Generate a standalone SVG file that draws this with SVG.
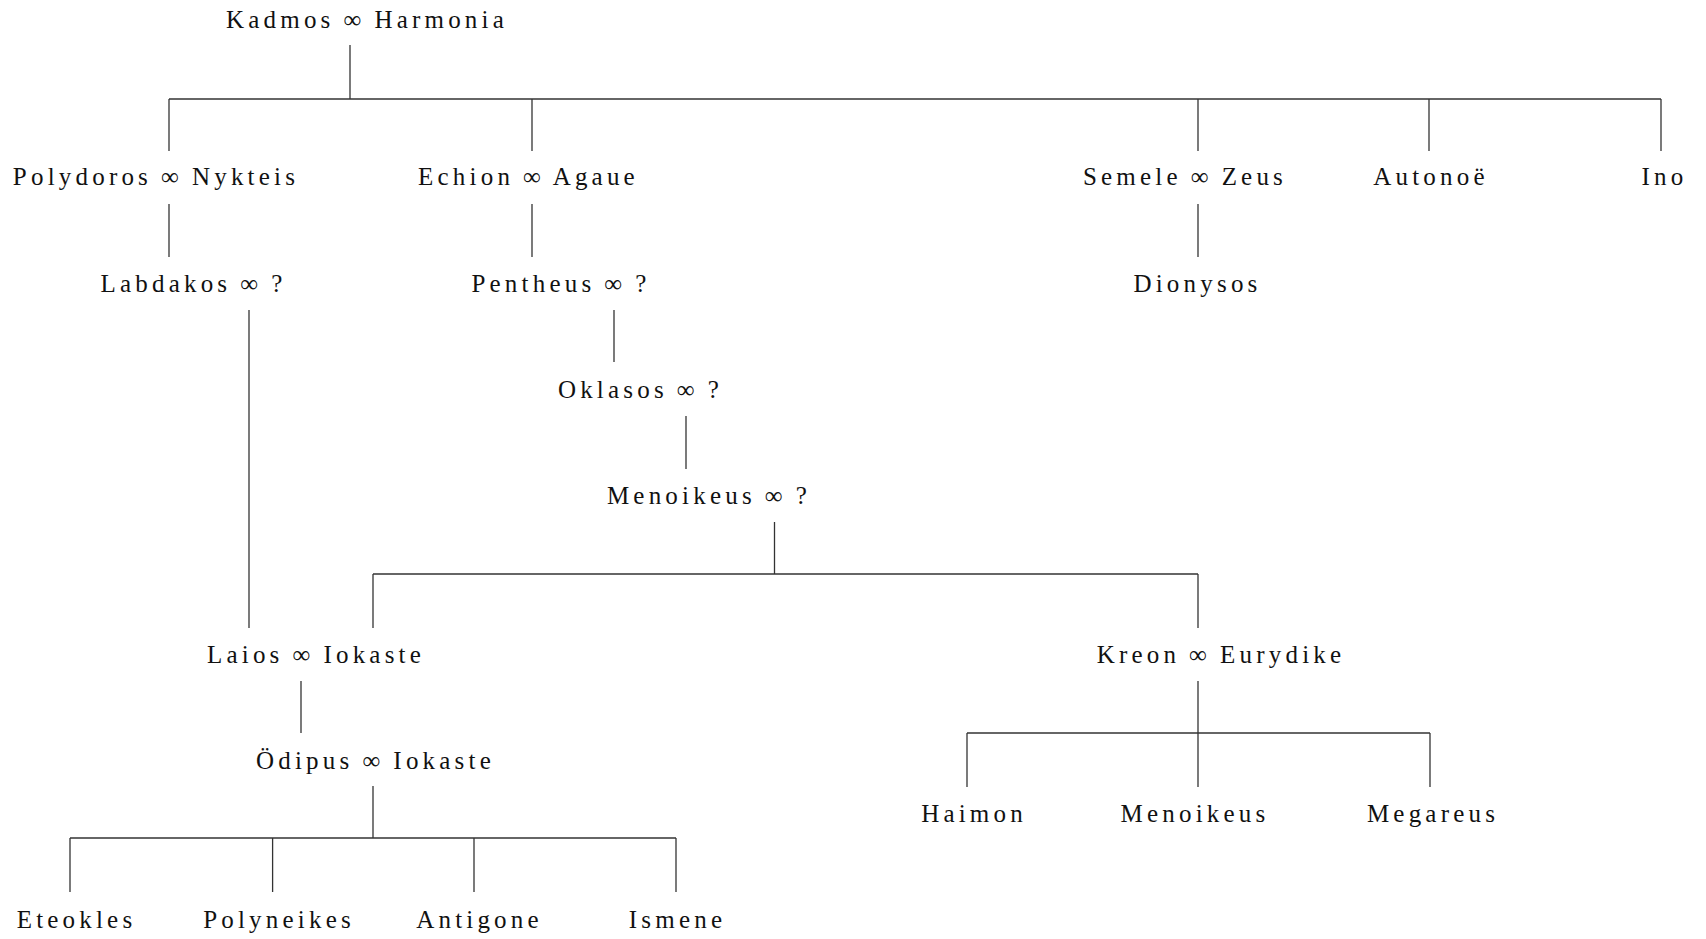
<svg xmlns="http://www.w3.org/2000/svg" width="1706" height="939" viewBox="0 0 1706 939">
<style>
text{font-family:"Liberation Serif","Times New Roman",serif;font-size:25px;letter-spacing:4.2px;word-spacing:-1.5px;fill:#111;text-anchor:middle}
.c line{stroke:#333;stroke-width:1.3;fill:none}
</style>
<rect width="1706" height="939" fill="#fff"/>
<g class="c" id="connectors">
<line x1="350" y1="45" x2="350" y2="99"/>
<line x1="169" y1="99" x2="1661" y2="99"/>
<line x1="169" y1="99" x2="169" y2="151"/>
<line x1="532" y1="99" x2="532" y2="151"/>
<line x1="1198" y1="99" x2="1198" y2="151"/>
<line x1="1429" y1="99" x2="1429" y2="151"/>
<line x1="1661" y1="99" x2="1661" y2="151"/>
<line x1="169" y1="204" x2="169" y2="257"/>
<line x1="532" y1="204" x2="532" y2="257"/>
<line x1="1198" y1="204" x2="1198" y2="257"/>
<line x1="249" y1="310" x2="249" y2="628"/>
<line x1="614" y1="310" x2="614" y2="362"/>
<line x1="686" y1="416" x2="686" y2="469"/>
<line x1="774.5" y1="522" x2="774.5" y2="574"/>
<line x1="373" y1="574" x2="1198" y2="574"/>
<line x1="373" y1="574" x2="373" y2="628"/>
<line x1="1198" y1="574" x2="1198" y2="628"/>
<line x1="301" y1="681" x2="301" y2="733"/>
<line x1="373" y1="786" x2="373" y2="838"/>
<line x1="70" y1="838" x2="676" y2="838"/>
<line x1="70" y1="838" x2="70" y2="892"/>
<line x1="272.6" y1="838" x2="272.6" y2="892"/>
<line x1="474" y1="838" x2="474" y2="892"/>
<line x1="676" y1="838" x2="676" y2="892"/>
<line x1="1198" y1="681" x2="1198" y2="787"/>
<line x1="967" y1="733" x2="1430" y2="733"/>
<line x1="967" y1="733" x2="967" y2="787"/>
<line x1="1430" y1="733" x2="1430" y2="787"/>
</g>
<g id="kadmos"><text x="367" y="28">Kadmos ∞ Harmonia</text></g>
<g id="polydoros"><text x="156" y="185">Polydoros ∞ Nykteis</text></g>
<g id="echion"><text x="528.5" y="185">Echion ∞ Agaue</text></g>
<g id="semele"><text x="1185" y="185">Semele ∞ Zeus</text></g>
<g id="autonoe"><text x="1431" y="185">Autonoë</text></g>
<g id="ino"><text x="1664.5" y="185">Ino</text></g>
<g id="labdakos"><text x="193.5" y="292">Labdakos ∞ ?</text></g>
<g id="pentheus"><text x="561" y="292">Pentheus ∞ ?</text></g>
<g id="dionysos"><text x="1197.5" y="292">Dionysos</text></g>
<g id="oklasos"><text x="640.5" y="398">Oklasos ∞ ?</text></g>
<g id="menoikeus1"><text x="709" y="504">Menoikeus ∞ ?</text></g>
<g id="laios"><text x="316" y="663">Laios ∞ Iokaste</text></g>
<g id="kreon"><text x="1221" y="663">Kreon ∞ Eurydike</text></g>
<g id="oedipus"><text x="375.5" y="769">Ödipus ∞ Iokaste</text></g>
<g id="haimon"><text x="974" y="822">Haimon</text></g>
<g id="menoikeus2"><text x="1195" y="822">Menoikeus</text></g>
<g id="megareus"><text x="1433" y="822">Megareus</text></g>
<g id="eteokles"><text x="76.5" y="928">Eteokles</text></g>
<g id="polyneikes"><text x="279" y="928">Polyneikes</text></g>
<g id="antigone"><text x="479.5" y="928">Antigone</text></g>
<g id="ismene"><text x="677.5" y="928">Ismene</text></g>
</svg>
